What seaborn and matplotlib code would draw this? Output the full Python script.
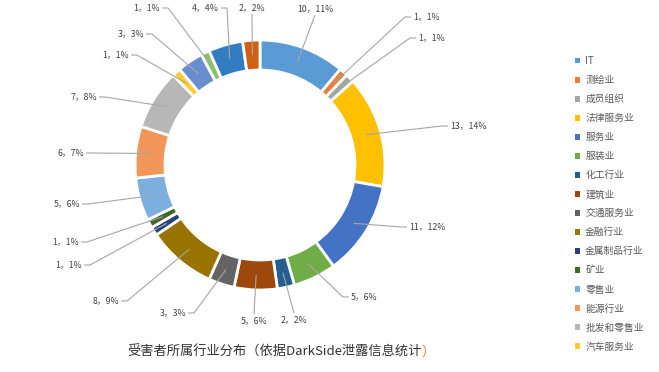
import numpy as np
import pandas as pd
import matplotlib
matplotlib.use("Agg")
import matplotlib.pyplot as plt
import seaborn as sns
from matplotlib.patches import Patch

# ---------------- data ----------------
categories = ["IT", "测绘业", "成员组织", "法律服务业", "服务业", "服装业", "化工行业",
              "建筑业", "交通服务业", "金融行业", "金属制品行业", "矿业", "零售业",
              "能源行业", "批发和零售业", "汽车服务业",
              "其他类别1", "其他类别2", "其他类别3", "其他类别4"]
counts = [10, 1, 1, 13, 11, 5, 2, 5, 3, 8, 1, 1, 5, 6, 7, 1, 3, 1, 4, 2]
colors = ["#5B9BD5", "#ED7D31", "#A5A5A5", "#FFC000", "#4472C4", "#70AD47", "#255E91",
          "#9E480E", "#636363", "#997300", "#264478", "#43682B", "#7CAFDD", "#F1975A",
          "#B7B7B7", "#FFCD33", "#698ED0", "#8CC168", "#327DC2", "#D26012"]
legend_count = 16
title_main = "受害者所属行业分布（依据DarkSide泄露信息统计"
title_end = "）"

# ---------------- layout (pixels, origin top-left) ----------------
label_pos = [(315, 9, 'b'), (413, 17, 'r'), (418, 38, 'r'), (450, 126, 'r'),
             (409, 227, 'r'), (351, 297, 'r'), (294, 320, 't'), (254, 321, 't'),
             (186, 313, 'l'), (119, 301, 'l'), (82, 265, 'l'), (79, 242, 'l'),
             (80, 204, 'l'), (84, 153, 'l'), (97, 97, 'l'), (129, 55, 'l'),
             (144, 34, 'l'), (160, 8, 'l'), (219, 8, 'l'), (252, 8, 'b')]

sns.set_theme(style="white")
plt.rcParams['font.family'] = ['Noto Sans CJK SC', 'DejaVu Sans']

W, H = 659, 372
fig = plt.figure(figsize=(W / 100, H / 100), dpi=100)
fig.patch.set_facecolor("white")
ax = fig.add_axes([0, 0, 1, 1])

df = pd.DataFrame({"cat": categories, "n": counts, "color": colors})
total = df["n"].sum()

cx, cy, R, ring = 260, 165, 125, 30
wedges, _ = ax.pie(df["n"], colors=df["color"], startangle=90, counterclock=False,
                   radius=R, center=(cx, H - cy),
                   wedgeprops=dict(width=ring, edgecolor="white", linewidth=2))
ax.set_xlim(0, W)
ax.set_ylim(0, H)
ax.set_aspect("equal")
ax.axis("off")

# ---------------- data labels with leader lines ----------------
cum = df["n"].cumsum() - df["n"] / 2
rm = R - ring / 2
for i, (n, c) in enumerate(zip(df["n"], cum)):
    ang = np.deg2rad(90 - 360 * c / total)
    sx, sy = cx + rm * np.cos(ang), (H - cy) + rm * np.sin(ang)
    x, y, side = label_pos[i]
    yd = H - y
    pct = int(round(100 * n / total))
    txt = f"{n}，{pct}%"
    if side == 'r':
        pts = [(sx, sy), (x - 8, yd), (x - 2, yd)]
        ax.text(x, yd, txt, ha="left", va="center", fontsize=6.3, color="#404040")
    elif side == 'l':
        pts = [(sx, sy), (x + 8, yd), (x + 2, yd)]
        ax.text(x, yd, txt, ha="right", va="center", fontsize=6.3, color="#404040")
    elif side == 'b':
        pts = [(sx, sy), (x, yd - 6)]
        ax.text(x, yd, txt, ha="center", va="center", fontsize=6.3, color="#404040")
    else:
        pts = [(sx, sy), (x, yd + 7)]
        ax.text(x, yd, txt, ha="center", va="center", fontsize=6.3, color="#404040")
    px, py = zip(*pts)
    ax.plot(px, py, color="#A6A6A6", lw=0.8, solid_capstyle="butt")

# ---------------- legend ----------------
handles = [Patch(facecolor=col, edgecolor="none") for col in df["color"][:legend_count]]
ax.legend(handles, list(df["cat"][:legend_count]), loc="upper left",
          bbox_to_anchor=(575 / W, 1 - 56 / H), bbox_transform=fig.transFigure,
          frameon=False, fontsize=7, labelcolor="#595959",
          handlelength=0.55, handleheight=0.55, handletextpad=0.5,
          labelspacing=0.93, borderpad=0, borderaxespad=0)

# ---------------- title ----------------
t = fig.text(127 / W, 1 - 352 / H, title_main, ha="left", va="center",
             fontsize=9.5, color="#333333")
ax.annotate(title_end, xy=(1, 0.5), xycoords=t, ha="left", va="center",
            fontsize=9.5, color="#ED7D31")

fig.savefig("out.png", dpi=100, facecolor="white")
